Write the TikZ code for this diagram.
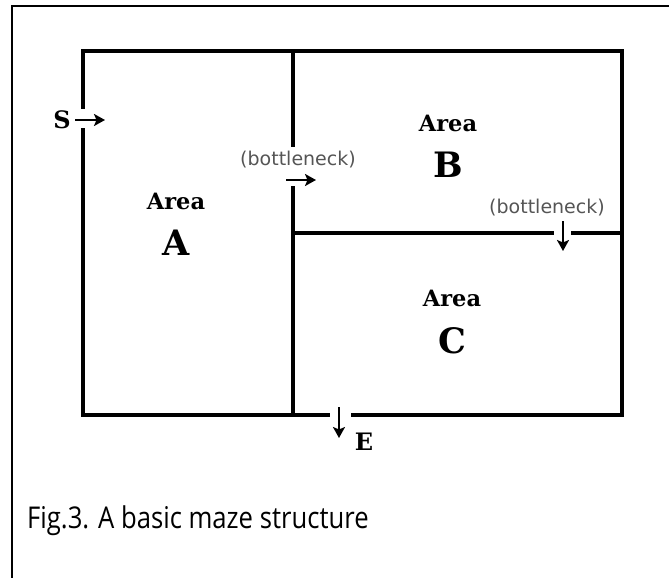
\documentclass[tikz,border=0pt]{standalone}
\usepackage{fontspec}
\setmainfont{DejaVu Serif}
\newfontfamily\capfont{Open Sans}
\newfontfamily\smallfont{DejaVu Sans}
\usetikzlibrary{arrows.meta}
\definecolor{bntext}{HTML}{555555}
\tikzset{
  wall/.style={line width=3.5pt, line cap=rect, line join=miter},
  frameline/.style={line width=2pt},
  arr/.style={line width=2.4pt, -{Stealth[length=11pt,width=12pt,inset=2.5pt]}},
  areaword/.style={font=\fontsize{22.5}{24}\selectfont\bfseries, inner sep=0pt},
  arealetter/.style={font=\fontsize{35}{37}\selectfont\bfseries, inner sep=0pt},
  endlabel/.style={font=\fontsize{24}{26}\selectfont\bfseries, inner sep=0pt},
  bneck/.style={font=\smallfont\fontsize{19}{21}\selectfont, text=bntext, inner sep=0pt},
  caption/.style={font=\capfont\fontsize{30}{33}\selectfont, inner sep=0pt, anchor=base west, xscale=0.855}
}
\begin{document}
\begin{tikzpicture}[x=1pt,y=-1pt]
\useasboundingbox (0,0) rectangle (669,578);
% outer frame (only top and left edges visible)
\coordinate (f1) at (12,578);
\coordinate (f2) at (12,6);
\coordinate (f3) at (669,6);
\draw[frameline] (f1) -- (f2) -- (f3);
% maze corners
\coordinate (tl) at (83,51);
\coordinate (tr) at (622,51);
\coordinate (br) at (622,415);
\coordinate (bl) at (83,415);
\coordinate (sg1) at (83,107);
\coordinate (sg2) at (83,130);
\coordinate (eg1) at (353,415);
\coordinate (eg2) at (328,415);
\coordinate (mt) at (293,51);
\coordinate (mg1) at (293,145);
\coordinate (mg2) at (293,188);
\coordinate (mb) at (293,415);
\coordinate (hl) at (293,233);
\coordinate (hg1) at (552,233);
\coordinate (hg2) at (573,233);
\coordinate (hr) at (622,233);
\draw[wall] (sg1) -- (tl) -- (tr) -- (br) -- (eg1);
\draw[wall] (eg2) -- (bl) -- (sg2);
\draw[wall] (mt) -- (mg1);
\draw[wall] (mg2) -- (mb);
\draw[wall] (hl) -- (hg1);
\draw[wall] (hg2) -- (hr);
% arrows
\coordinate (sa1) at (75,120);
\coordinate (sa2) at (105,120);
\coordinate (ba1) at (286,180);
\coordinate (ba2) at (316,180);
\coordinate (ca1) at (563,221);
\coordinate (ca2) at (563,251);
\coordinate (ea1) at (339,407);
\coordinate (ea2) at (339,438);
\draw[arr] (sa1) -- (sa2);
\draw[arr] (ba1) -- (ba2);
\draw[arr] (ca1) -- (ca2);
\draw[arr] (ea1) -- (ea2);
% labels
\node[endlabel] (S) at (62,120) {S};
\node[endlabel] (E) at (364,442) {E};
\node[bneck] (bn1) at (298,160) {(bottleneck)};
\node[bneck] (bn2) at (547,208) {(bottleneck)};
\node[areaword] (wa) at (176,201) {Area};
\node[arealetter] (la) at (176,243) {A};
\node[areaword] (wb) at (448,123) {Area};
\node[arealetter] (lb) at (448,165) {B};
\node[areaword] (wc) at (452,298) {Area};
\node[arealetter] (lc) at (452,341) {C};
\node[caption] (cap) at (27,528) {Fig.3. A basic maze structure};
\end{tikzpicture}
\end{document}
